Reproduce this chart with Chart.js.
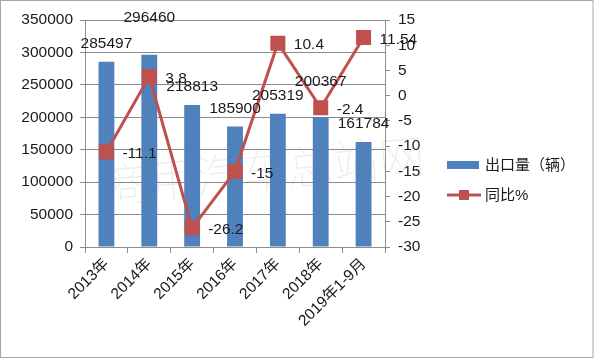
<!DOCTYPE html>
<html><head><meta charset="utf-8">
<script src="https://cdn.jsdelivr.net/npm/chart.js@4.4.0/dist/chart.umd.min.js"></script>
<style>html,body{margin:0;padding:0;background:#fff}#wrap{width:600px;height:359px;position:relative}</style>
</head><body><div id="wrap"><canvas id="c" width="600" height="359"></canvas></div>
<script>
const categories = ['2013年','2014年','2015年','2016年','2017年','2018年','2019年1-9月'];
const exportVolume = [285497, 296460, 218813, 185900, 205319, 200367, 161784];
const yoyPercent = [-11.1, 3.8, -26.2, -15, 10.4, -2.4, 11.54];
const leftAxisTicks = [0, 50000, 100000, 150000, 200000, 250000, 300000, 350000];
const rightAxisTicks = [-30, -25, -20, -15, -10, -5, 0, 5, 10, 15];
const seriesNames = ['出口量（辆）', '同比%'];

const FONT = '"Liberation Sans", Arial, "Noto Sans CJK SC", sans-serif';
const FS = 15.5;
const TXT = '#1a1a1a';
const BAR = '#4F81BD';
const LINE = '#C0504D';
const GRID = '#8c8c8c';

const decor = {
  id: 'decor',
  afterDatasetsDraw(chart) {
    const ctx = chart.ctx;
    ctx.save();
    ctx.font = FS + 'px ' + FONT;
    ctx.fillStyle = TXT;
    const bm = chart.getDatasetMeta(0);
    const lift = [18, 37, 18, 18, 18, 35, 18];
    ctx.textAlign = 'center'; ctx.textBaseline = 'middle';
    bm.data.forEach((el, i) => {
      ctx.fillText(String(exportVolume[i]), el.x, el.y - lift[i]);
    });
    const lm = chart.getDatasetMeta(1);
    ctx.textAlign = 'left';
    lm.data.forEach((el, i) => {
      ctx.fillText(String(yoyPercent[i]), el.x + 16, el.y + 2);
    });
    ctx.restore();
  },
  afterDraw(chart) {
    const ctx = chart.ctx;
    ctx.save();
    ctx.translate(264, 170);
    ctx.rotate(-5.5 * Math.PI / 180);
    ctx.font = '100 46px "Noto Sans CJK SC", sans-serif';
    ctx.fillStyle = 'rgba(140,140,140,0.17)';
    ctx.textAlign = 'center'; ctx.textBaseline = 'middle';
    ctx.fillText('商用汽车总站网', 0, 0);
    ctx.restore();

    ctx.save();
    ctx.fillStyle = BAR;
    ctx.fillRect(447, 161, 32, 8);
    ctx.strokeStyle = LINE; ctx.lineWidth = 3;
    ctx.beginPath(); ctx.moveTo(447, 195); ctx.lineTo(481, 195); ctx.stroke();
    ctx.fillStyle = LINE;
    ctx.fillRect(459, 190, 10, 10);
    ctx.font = '15px ' + FONT;
    ctx.fillStyle = TXT;
    ctx.textAlign = 'left'; ctx.textBaseline = 'middle';
    ctx.fillText(seriesNames[0], 485, 166);
    ctx.fillText(seriesNames[1], 485, 196);
    ctx.strokeStyle = '#a6a6a6'; ctx.lineWidth = 1;
    ctx.strokeRect(0.5, 0.5, 592.5, 357);
    ctx.restore();
  }
};

new Chart(document.getElementById('c'), {
  data: {
    labels: categories,
    datasets: [
      { type: 'bar', label: seriesNames[0], data: exportVolume, backgroundColor: BAR,
        yAxisID: 'y', order: 1, barPercentage: 0.37, categoryPercentage: 1 },
      { type: 'line', label: seriesNames[1], data: yoyPercent, borderColor: LINE, borderWidth: 3,
        backgroundColor: LINE, pointBackgroundColor: LINE, pointBorderColor: LINE,
        pointStyle: 'rect', pointRadius: 8.5, pointHoverRadius: 8.5, yAxisID: 'y1', order: 0,
        tension: 0, fill: false }
    ]
  },
  options: {
    responsive: false,
    animation: false,
    events: [],
    layout: { padding: { left: 0, right: 175, top: 20, bottom: 0 } },
    plugins: { legend: { display: false }, tooltip: { enabled: false } },
    scales: {
      x: {
        offset: true,
        grid: { display: true, drawOnChartArea: false, offset: true, tickLength: 6, color: GRID },
        border: { color: GRID },
        ticks: { minRotation: 45, maxRotation: 45, color: TXT, font: { size: FS, family: FONT }, padding: 2 },
        afterFit(s) { s.height = 112; }
      },
      y: {
        position: 'left', min: 0, max: 350000,
        afterBuildTicks(s) { s.ticks = leftAxisTicks.map(v => ({ value: v })); },
        grid: { color: GRID, tickLength: 5 },
        border: { color: GRID },
        ticks: { color: TXT, font: { size: FS, family: FONT }, padding: 7, callback: v => String(v) },
        afterFit(s) { s.width = 85; }
      },
      y1: {
        position: 'right', min: -30, max: 15,
        afterBuildTicks(s) { s.ticks = rightAxisTicks.map(v => ({ value: v })); },
        grid: { drawOnChartArea: false, color: GRID, tickLength: 5 },
        border: { color: GRID },
        ticks: { color: TXT, font: { size: FS, family: FONT }, padding: 8, callback: v => String(v) },
        afterFit(s) { s.width = 40; }
      }
    }
  },
  plugins: [decor]
});
</script>
</body></html>
